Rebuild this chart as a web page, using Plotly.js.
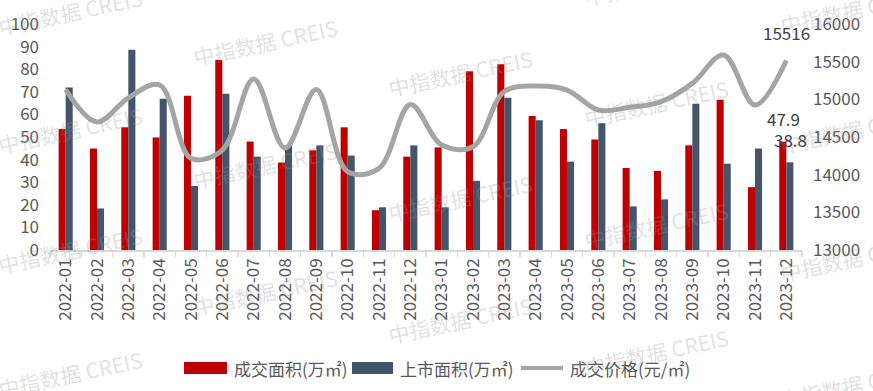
<!DOCTYPE html>
<html>
<head>
<meta charset="utf-8">
<script src="https://cdn.plot.ly/plotly-3.0.1.min.js"></script>
<style>html,body{margin:0;padding:0;background:#fff;}#chart{width:873px;height:391px;}</style>
</head>
<body>
<div id="chart"></div>
<script>
const months = ["2022-01","2022-02","2022-03","2022-04","2022-05","2022-06","2022-07","2022-08","2022-09","2022-10","2022-11","2022-12",
                "2023-01","2023-02","2023-03","2023-04","2023-05","2023-06","2023-07","2023-08","2023-09","2023-10","2023-11","2023-12"];
const dealArea = [53.5, 44.9, 54.3, 49.8, 68.3, 84.1, 48.0, 38.7, 44.1, 54.3, 17.6, 41.3,
                  45.4, 79.1, 82.2, 59.3, 53.5, 48.9, 36.3, 35.0, 46.3, 66.5, 27.8, 47.9];
const listArea = [71.9, 18.4, 88.6, 66.9, 28.3, 69.1, 41.3, 46.3, 46.3, 41.8, 18.9, 46.3,
                  18.9, 30.6, 67.4, 57.4, 39.1, 56.1, 19.3, 22.4, 64.7, 38.2, 44.9, 38.8];
const dealPrice = [15130, 14700, 15020, 15190, 14217, 14327, 15270, 14354, 15130, 14039, 14084, 14930,
                   14393, 14371, 15104, 15176, 15123, 14858, 14894, 14968, 15212, 15588, 14924, 15516];
const seriesNames = ["成交面积(万㎡)", "上市面积(万㎡)", "成交价格(元/㎡)"];
const watermark = "中指数据 CREIS";

const FONT = "'Noto Sans CJK SC', 'Noto Sans', sans-serif";
const TICK = "#595959";
const RED = "#C00000", BLUE = "#44546A", GRAY = "#A5A5A5";

// pixel -> paper helpers (plot area 50..802 x, 24..250 y)
const L = 50, R = 802, T = 24, B = 250;
const px = v => (v - L) / (R - L);
const py = v => (B - v) / (B - T);

const traces = [
  {type: "bar", name: seriesNames[0], x: months, y: dealArea, marker: {color: RED}, hoverinfo: "none"},
  {type: "bar", name: seriesNames[1], x: months, y: listArea, marker: {color: BLUE}, hoverinfo: "none"},
  {type: "scatter", mode: "lines", name: seriesNames[2], x: months, y: dealPrice, yaxis: "y2",
   line: {color: GRAY, width: 5, shape: "spline", smoothing: 1}, hoverinfo: "none"}
];

const n = months.length - 1;
const annotations = [];

// watermark tiles (positions in pixels)
const wmPos = [[70,12],[265,42],[460,73],[656,103],[852,130],[656,-18],[852,10],
               [70,130],[265,165],[460,198],[656,225],[852,258],
               [70,250],[265,292],[460,320],[656,352],[852,385],
               [70,374]];
wmPos.forEach(p => annotations.push({
  x: px(p[0]), y: py(p[1]), xref: "paper", yref: "paper", text: watermark, showarrow: false,
  xanchor: "center", yanchor: "middle", textangle: -12,
  font: {size: 21, color: "rgba(150,150,150,0.3)", family: FONT}
}));

// value labels
annotations.push(
  {x: months[n], y: dealArea[n], xref: "x", yref: "y", text: String(dealArea[n]), showarrow: false,
   xanchor: "center", yanchor: "middle", yshift: 23, xshift: -3, font: {size: 17, color: "#404040", family: FONT}},
  {x: months[n], y: listArea[n], xref: "x", yref: "y", text: String(listArea[n]), showarrow: false,
   xanchor: "center", yanchor: "middle", yshift: 23, xshift: 4, font: {size: 17, color: "#404040", family: FONT}},
  {x: months[n], y: dealPrice[n], xref: "x", yref: "y2", text: String(dealPrice[n]), showarrow: false,
   xanchor: "center", yanchor: "middle", yshift: 28, font: {size: 17, color: "#404040", family: FONT}}
);

// custom legend
const legY = 368;
const legendText = [[232, seriesNames[0]], [398, seriesNames[1]], [568, seriesNames[2]]];
legendText.forEach(t => annotations.push({
  x: px(t[0]), y: py(legY), xref: "paper", yref: "paper", text: t[1], showarrow: false,
  xanchor: "left", yanchor: "middle", font: {size: 17, color: TICK, family: FONT}
}));
const shapes = [
  {type: "rect", xref: "paper", yref: "paper", x0: px(184), x1: px(227), y0: py(374), y1: py(362), fillcolor: RED, line: {width: 0}},
  {type: "rect", xref: "paper", yref: "paper", x0: px(352), x1: px(393), y0: py(374), y1: py(362), fillcolor: BLUE, line: {width: 0}},
  {type: "line", xref: "paper", yref: "paper", x0: px(521), x1: px(563), y0: py(legY), y1: py(legY), line: {color: GRAY, width: 4}}
];

const layout = {
  width: 873, height: 391,
  margin: {l: L, r: 873 - R, t: T, b: 391 - B, pad: 0, autoexpand: false},
  paper_bgcolor: "#fff", plot_bgcolor: "#fff",
  font: {family: FONT, color: TICK, size: 17},
  showlegend: false,
  barmode: "group", bargap: 0.55, bargroupgap: 0,
  xaxis: {type: "category", range: [-0.5, months.length - 0.5], tickangle: -90, tickson: "boundaries",
          ticks: "outside", ticklen: 5,
          tickcolor: "#D9D9D9", tickwidth: 1.5, showline: true, linecolor: "#D9D9D9", linewidth: 1.5,
          showgrid: false, zeroline: false, automargin: false, tickfont: {size: 17, color: TICK, family: FONT}},
  yaxis: {range: [0, 100], dtick: 10, showgrid: false, zeroline: false, showline: false, ticks: "",
          automargin: false, ticklabelstandoff: 10, tickfont: {size: 17, color: TICK, family: FONT}},
  yaxis2: {range: [13000, 16000], dtick: 500, tickformat: "d", overlaying: "y", side: "right", showgrid: false,
           zeroline: false, showline: false, ticks: "", ticklabelstandoff: 10, automargin: false,
           tickfont: {size: 17, color: TICK, family: FONT}},
  annotations: annotations,
  shapes: shapes
};

Plotly.newPlot("chart", traces, layout, {staticPlot: true, displayModeBar: false});
</script>
</body>
</html>
